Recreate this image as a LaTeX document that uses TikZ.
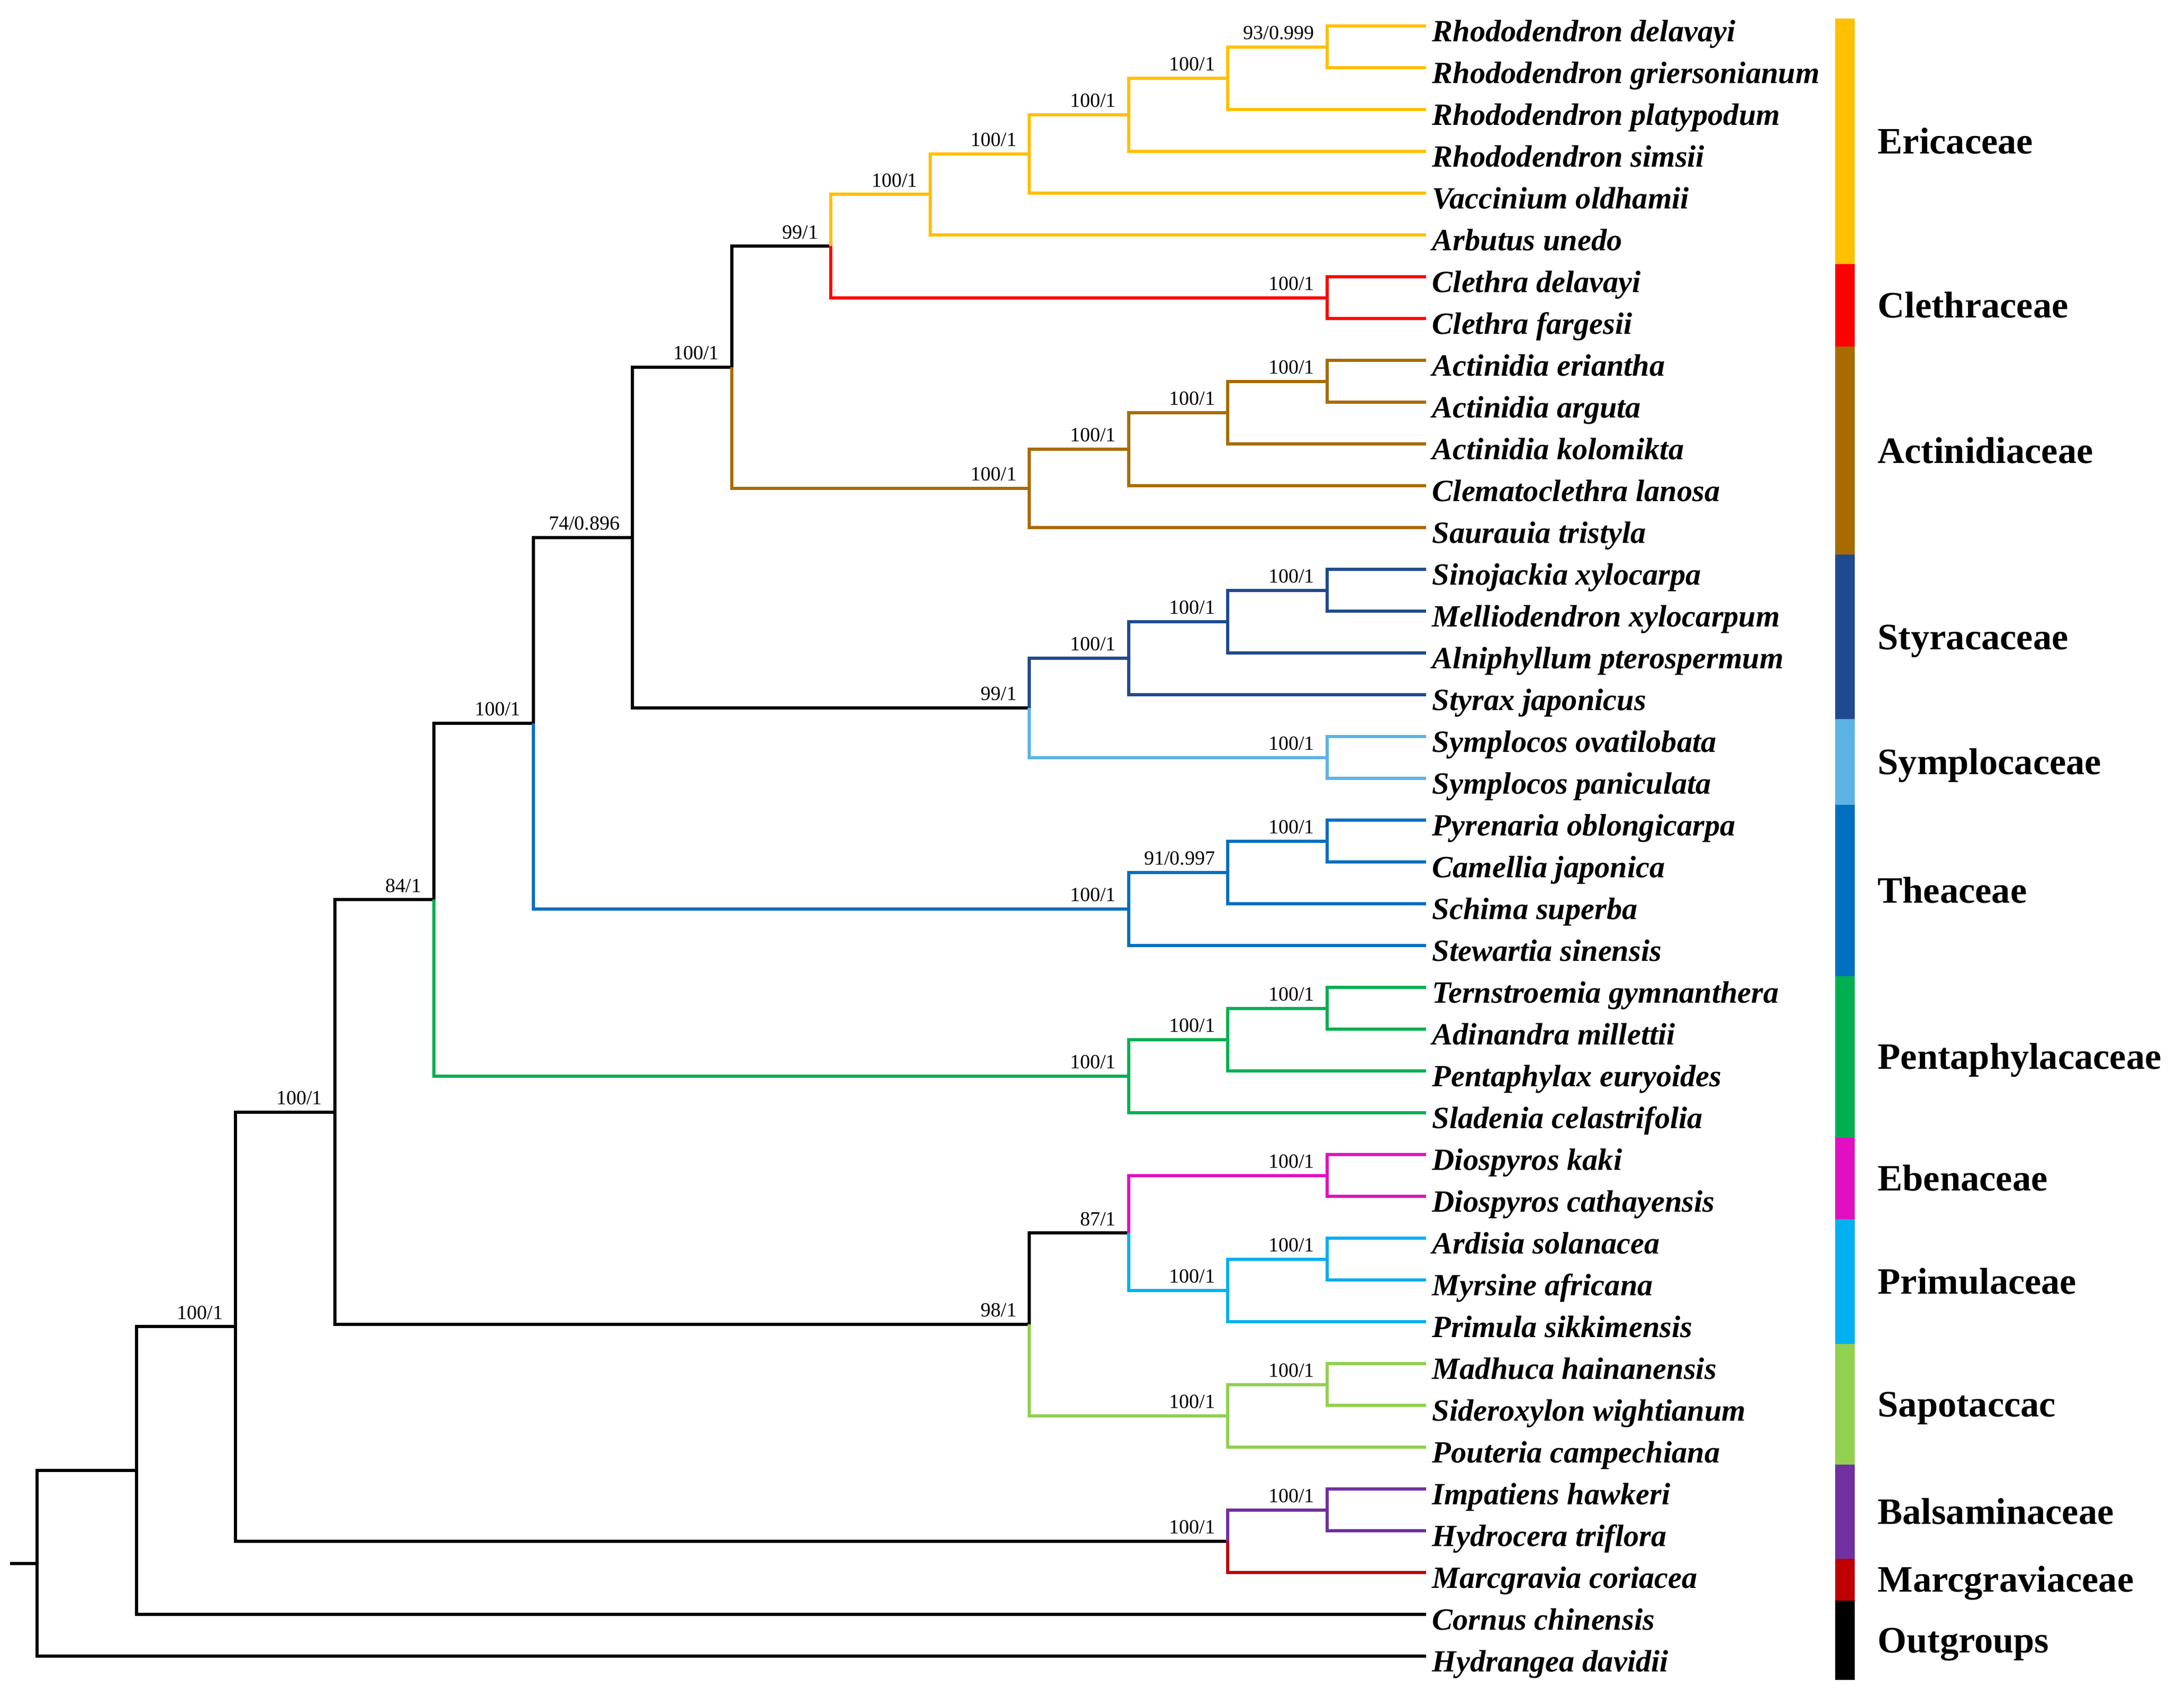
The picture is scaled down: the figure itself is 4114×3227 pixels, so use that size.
\documentclass[tikz,border=0pt]{standalone}
\usepackage{fontspec}
\setmainfont{Liberation Serif}
\usepackage{xcolor}
\definecolor{erica}{HTML}{FFC000}
\definecolor{cleth}{HTML}{FF0000}
\definecolor{actin}{HTML}{A86B00}
\definecolor{styra}{HTML}{1F4A8F}
\definecolor{sympl}{HTML}{5BB4E4}
\definecolor{thea}{HTML}{0070C0}
\definecolor{penta}{HTML}{00B050}
\definecolor{ebena}{HTML}{E010C0}
\definecolor{primu}{HTML}{00B0F0}
\definecolor{sapot}{HTML}{92D050}
\definecolor{balsa}{HTML}{7030A0}
\definecolor{marcg}{HTML}{C00000}
\tikzset{
	branch/.style={line width=1.5pt},
	taxon/.style={anchor=base west,inner sep=0pt,xshift=2.75pt,yshift=-7.25pt,font=\bfseries\itshape\fontsize{14.6}{16}\selectfont},
	support/.style={anchor=base east,inner sep=0pt,xshift=-5.75pt,yshift=3.5pt,font=\fontsize{9.5}{11}\selectfont},
	family/.style={anchor=base west,inner sep=0pt,font=\bfseries\fontsize{17.6}{20}\selectfont}
}
\begin{document}
\begin{tikzpicture}[x=0.25pt,y=-0.25pt]
		\useasboundingbox (0,0) rectangle (4114,3227);
		\begin{scope}[xshift=17.5pt,yshift=-12.25pt,x=46.875pt,y=-19.75pt]
			% tips
			\coordinate (t0) at (14,0);   \node[taxon] (n0) at (t0) {Rhododendron delavayi};
			\coordinate (t1) at (14,1);   \node[taxon] (n1) at (t1) {Rhododendron griersonianum};
			\coordinate (t2) at (14,2);   \node[taxon] (n2) at (t2) {Rhododendron platypodum};
			\coordinate (t3) at (14,3);   \node[taxon] (n3) at (t3) {Rhododendron simsii};
			\coordinate (t4) at (14,4);   \node[taxon] (n4) at (t4) {Vaccinium oldhamii};
			\coordinate (t5) at (14,5);   \node[taxon] (n5) at (t5) {Arbutus unedo};
			\coordinate (t6) at (14,6);   \node[taxon] (n6) at (t6) {Clethra delavayi};
			\coordinate (t7) at (14,7);   \node[taxon] (n7) at (t7) {Clethra fargesii};
			\coordinate (t8) at (14,8);   \node[taxon] (n8) at (t8) {Actinidia eriantha};
			\coordinate (t9) at (14,9);   \node[taxon] (n9) at (t9) {Actinidia arguta};
			\coordinate (t10) at (14,10); \node[taxon] (n10) at (t10) {Actinidia kolomikta};
			\coordinate (t11) at (14,11); \node[taxon] (n11) at (t11) {Clematoclethra lanosa};
			\coordinate (t12) at (14,12); \node[taxon] (n12) at (t12) {Saurauia tristyla};
			\coordinate (t13) at (14,13); \node[taxon] (n13) at (t13) {Sinojackia xylocarpa};
			\coordinate (t14) at (14,14); \node[taxon] (n14) at (t14) {Melliodendron xylocarpum};
			\coordinate (t15) at (14,15); \node[taxon] (n15) at (t15) {Alniphyllum pterospermum};
			\coordinate (t16) at (14,16); \node[taxon] (n16) at (t16) {Styrax japonicus};
			\coordinate (t17) at (14,17); \node[taxon] (n17) at (t17) {Symplocos ovatilobata};
			\coordinate (t18) at (14,18); \node[taxon] (n18) at (t18) {Symplocos paniculata};
			\coordinate (t19) at (14,19); \node[taxon] (n19) at (t19) {Pyrenaria oblongicarpa};
			\coordinate (t20) at (14,20); \node[taxon] (n20) at (t20) {Camellia japonica};
			\coordinate (t21) at (14,21); \node[taxon] (n21) at (t21) {Schima superba};
			\coordinate (t22) at (14,22); \node[taxon] (n22) at (t22) {Stewartia sinensis};
			\coordinate (t23) at (14,23); \node[taxon] (n23) at (t23) {Ternstroemia gymnanthera};
			\coordinate (t24) at (14,24); \node[taxon] (n24) at (t24) {Adinandra millettii};
			\coordinate (t25) at (14,25); \node[taxon] (n25) at (t25) {Pentaphylax euryoides};
			\coordinate (t26) at (14,26); \node[taxon] (n26) at (t26) {Sladenia celastrifolia};
			\coordinate (t27) at (14,27); \node[taxon] (n27) at (t27) {Diospyros kaki};
			\coordinate (t28) at (14,28); \node[taxon] (n28) at (t28) {Diospyros cathayensis};
			\coordinate (t29) at (14,29); \node[taxon] (n29) at (t29) {Ardisia solanacea};
			\coordinate (t30) at (14,30); \node[taxon] (n30) at (t30) {Myrsine africana};
			\coordinate (t31) at (14,31); \node[taxon] (n31) at (t31) {Primula sikkimensis};
			\coordinate (t32) at (14,32); \node[taxon] (n32) at (t32) {Madhuca hainanensis};
			\coordinate (t33) at (14,33); \node[taxon] (n33) at (t33) {Sideroxylon wightianum};
			\coordinate (t34) at (14,34); \node[taxon] (n34) at (t34) {Pouteria campechiana};
			\coordinate (t35) at (14,35); \node[taxon] (n35) at (t35) {Impatiens hawkeri};
			\coordinate (t36) at (14,36); \node[taxon] (n36) at (t36) {Hydrocera triflora};
			\coordinate (t37) at (14,37); \node[taxon] (n37) at (t37) {Marcgravia coriacea};
			\coordinate (t38) at (14,38); \node[taxon] (n38) at (t38) {Cornus chinensis};
			\coordinate (t39) at (14,39); \node[taxon] (n39) at (t39) {Hydrangea davidii};
			
			% inner nodes
			\coordinate (E1) at (13,0.5);     \node[support] (sE1) at (E1) {93/0.999};
			\coordinate (E2) at (12,1.25);    \node[support] (sE2) at (E2) {100/1};
			\coordinate (E3) at (11,2.125);   \node[support] (sE3) at (E3) {100/1};
			\coordinate (E4) at (10,3.0625);  \node[support] (sE4) at (E4) {100/1};
			\coordinate (E5) at (9,4.031);    \node[support] (sE5) at (E5) {100/1};
			\coordinate (C1) at (13,6.5);     \node[support] (sC1) at (C1) {100/1};
			\coordinate (EC) at (8,5.266);    \node[support] (sEC) at (EC) {99/1};
			\coordinate (A1) at (13,8.5);     \node[support] (sA1) at (A1) {100/1};
			\coordinate (A2) at (12,9.25);    \node[support] (sA2) at (A2) {100/1};
			\coordinate (A3) at (11,10.125);  \node[support] (sA3) at (A3) {100/1};
			\coordinate (A4) at (10,11.0625); \node[support] (sA4) at (A4) {100/1};
			\coordinate (N7) at (7,8.164);    \node[support] (sN7) at (N7) {100/1};
			\coordinate (S1) at (13,13.5);    \node[support] (sS1) at (S1) {100/1};
			\coordinate (S2) at (12,14.25);   \node[support] (sS2) at (S2) {100/1};
			\coordinate (S3) at (11,15.125);  \node[support] (sS3) at (S3) {100/1};
			\coordinate (Y1) at (13,17.5);    \node[support] (sY1) at (Y1) {100/1};
			\coordinate (SY) at (10,16.3125); \node[support] (sSY) at (SY) {99/1};
			\coordinate (N6) at (6,12.238);   \node[support] (sN6) at (N6) {74/0.896};
			\coordinate (T1) at (13,19.5);    \node[support] (sT1) at (T1) {100/1};
			\coordinate (T2) at (12,20.25);   \node[support] (sT2) at (T2) {91/0.997};
			\coordinate (T3) at (11,21.125);  \node[support] (sT3) at (T3) {100/1};
			\coordinate (N5) at (5,16.682);   \node[support] (sN5) at (N5) {100/1};
			\coordinate (P1) at (13,23.5);    \node[support] (sP1) at (P1) {100/1};
			\coordinate (P2) at (12,24.25);   \node[support] (sP2) at (P2) {100/1};
			\coordinate (P3) at (11,25.125);  \node[support] (sP3) at (P3) {100/1};
			\coordinate (N4) at (4,20.903);   \node[support] (sN4) at (N4) {84/1};
			\coordinate (B1) at (13,27.5);    \node[support] (sB1) at (B1) {100/1};
			\coordinate (Q1) at (13,29.5);    \node[support] (sQ1) at (Q1) {100/1};
			\coordinate (Q2) at (12,30.25);   \node[support] (sQ2) at (Q2) {100/1};
			\coordinate (EQ) at (11,28.875);  \node[support] (sEQ) at (EQ) {87/1};
			\coordinate (D1) at (13,32.5);    \node[support] (sD1) at (D1) {100/1};
			\coordinate (D2) at (12,33.25);   \node[support] (sD2) at (D2) {100/1};
			\coordinate (ES) at (10,31.0625); \node[support] (sES) at (ES) {98/1};
			\coordinate (N3) at (3,25.983);   \node[support] (sN3) at (N3) {100/1};
			\coordinate (M1) at (13,35.5);    \node[support] (sM1) at (M1) {100/1};
			\coordinate (BM) at (12,36.25);   \node[support] (sBM) at (BM) {100/1};
			\coordinate (N2) at (2,31.116);   \node[support] (sN2) at (N2) {100/1};
			\coordinate (N1) at (1,34.558);
			\coordinate (N0) at (0,36.779);
			\coordinate (root) at (-0.272,36.779);
			
			% branches
			\draw[branch] (root) -- (N0) (N0) |- (N1) (N0) |- (t39) (N1) |- (N2) (N1) |- (t38)
			(N2) |- (N3) (N2) |- (BM) (N3) |- (N4) (N3) |- (ES) (N4) |- (N5) (N5) |- (N6)
			(N6) |- (N7) (N6) |- (SY) (N7) |- (EC) (ES) |- (EQ);
			\draw[branch,erica] (EC) |- (E5) (E5) |- (E4) (E5) |- (t5) (E4) |- (E3) (E4) |- (t4)
			(E3) |- (E2) (E3) |- (t3) (E2) |- (E1) (E2) |- (t2) (E1) |- (t0) (E1) |- (t1);
			\draw[branch,cleth] (EC) |- (C1) (C1) |- (t6) (C1) |- (t7);
			\draw[branch,actin] (N7) |- (A4) (A4) |- (A3) (A4) |- (t12) (A3) |- (A2) (A3) |- (t11)
			(A2) |- (A1) (A2) |- (t10) (A1) |- (t8) (A1) |- (t9);
			\draw[branch,styra] (SY) |- (S3) (S3) |- (S2) (S3) |- (t16) (S2) |- (S1) (S2) |- (t15)
			(S1) |- (t13) (S1) |- (t14);
			\draw[branch,sympl] (SY) |- (Y1) (Y1) |- (t17) (Y1) |- (t18);
			\draw[branch,thea] (N5) |- (T3) (T3) |- (T2) (T3) |- (t22) (T2) |- (T1) (T2) |- (t21)
			(T1) |- (t19) (T1) |- (t20);
			\draw[branch,penta] (N4) |- (P3) (P3) |- (P2) (P3) |- (t26) (P2) |- (P1) (P2) |- (t25)
			(P1) |- (t23) (P1) |- (t24);
			\draw[branch,ebena] (EQ) |- (B1) (B1) |- (t27) (B1) |- (t28);
			\draw[branch,primu] (EQ) |- (Q2) (Q2) |- (Q1) (Q2) |- (t31) (Q1) |- (t29) (Q1) |- (t30);
			\draw[branch,sapot] (ES) |- (D2) (D2) |- (D1) (D2) |- (t34) (D1) |- (t32) (D1) |- (t33);
			\draw[branch,balsa] (BM) |- (M1) (M1) |- (t35) (M1) |- (t36);
			\draw[branch,marcg] (BM) |- (t37);
		\end{scope}
		
		% family bar
		\fill[erica] (3468,35) rectangle (3505,499);
		\fill[cleth] (3468,499) rectangle (3505,655);
		\fill[actin] (3468,655) rectangle (3505,1048);
		\fill[styra] (3468,1048) rectangle (3505,1359);
		\fill[sympl] (3468,1359) rectangle (3505,1521);
		\fill[thea] (3468,1521) rectangle (3505,1845);
		\fill[penta] (3468,1845) rectangle (3505,2150);
		\fill[ebena] (3468,2150) rectangle (3505,2304);
		\fill[primu] (3468,2304) rectangle (3505,2540);
		\fill[sapot] (3468,2540) rectangle (3505,2768);
		\fill[balsa] (3468,2768) rectangle (3505,2946);
		\fill[marcg] (3468,2946) rectangle (3505,3025);
		\fill[black] (3468,3025) rectangle (3505,3175);
		
		\node[family] (fEri) at (3548,290) {Ericaceae};
		\node[family] (fCle) at (3548,600) {Clethraceae};
		\node[family] (fAct) at (3548,875) {Actinidiaceae};
		\node[family] (fSty) at (3548,1227) {Styracaceae};
		\node[family] (fSym) at (3548,1463) {Symplocaceae};
		\node[family] (fThe) at (3548,1706) {Theaceae};
		\node[family] (fPen) at (3548,2020) {Pentaphylacaceae};
		\node[family] (fEbe) at (3548,2250) {Ebenaceae};
		\node[family] (fPri) at (3548,2445) {Primulaceae};
		\node[family] (fSap) at (3548,2677) {Sapotaccac};
		\node[family] (fBal) at (3548,2880) {Balsaminaceae};
		\node[family] (fMar) at (3548,3008) {Marcgraviaceae};
		\node[family] (fOut) at (3548,3123) {Outgroups};
	\end{tikzpicture}
\end{document}
